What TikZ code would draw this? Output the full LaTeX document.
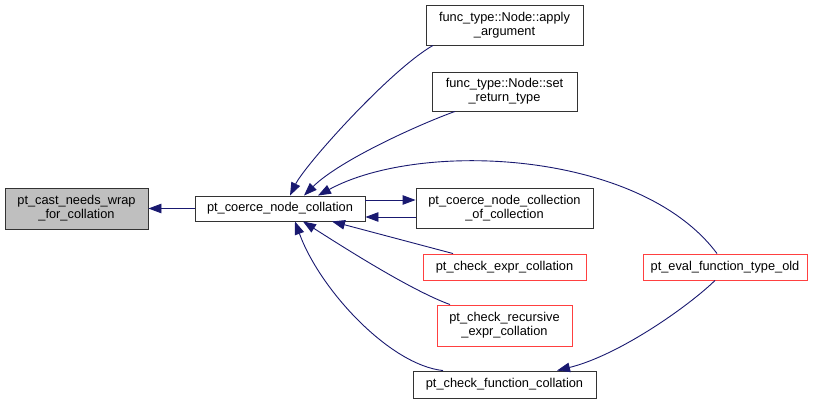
\documentclass[tikz,border=0pt]{standalone}
\usepackage{fontspec}
\setmainfont{Liberation Sans}
\usetikzlibrary{arrows.meta}
\definecolor{edgeblue}{HTML}{191970}
\definecolor{nodered}{HTML}{FF4040}
\definecolor{nodegray}{HTML}{BFBFBF}
\begin{document}
\begin{tikzpicture}[x=1pt,y=-1pt,
  box/.style={draw=black!80, line width=0.9pt, fill=white, inner sep=0pt, align=center,
    font=\fontsize{12.8}{14}\selectfont},
  redbox/.style={box, draw=nodered},
  edge/.style={draw=edgeblue, line width=0.9pt, -{Triangle[length=13pt,width=9.5pt]}}]
\useasboundingbox (0,0) rectangle (823,403);
\node[box, fill=nodegray, minimum width=143pt, minimum height=41pt] (A) at (76.5,208.5) {pt\_cast\_needs\_wrap\\\_for\_collation};
\node[box, minimum width=170pt, minimum height=25pt] (B) at (280,208.5) {pt\_coerce\_node\_collation};
\node[box, minimum width=157pt, minimum height=40pt] (C) at (504.5,25) {func\_type::Node::apply\\\_argument};
\node[box, minimum width=145pt, minimum height=39pt] (D) at (504.5,91.5) {func\_type::Node::set\\\_return\_type};
\node[box, minimum width=177pt, minimum height=40pt] (E) at (504.5,208.5) {pt\_coerce\_node\_collection\\\_of\_collection};
\node[redbox, minimum width=163pt, minimum height=26pt] (F) at (504.5,267) {pt\_check\_expr\_collation};
\node[redbox, minimum width=135pt, minimum height=41pt] (G) at (504.5,325.5) {pt\_check\_recursive\\\_expr\_collation};
\node[box, minimum width=183pt, minimum height=27pt] (H) at (504.5,384.5) {pt\_check\_function\_collation};
\node[redbox, minimum width=164pt, minimum height=26pt] (I) at (725,267) {pt\_eval\_function\_type\_old};

\draw[edge] (B.west) -- (A.east);
\draw[edge] ([xshift=-71.5pt]C.south) .. controls (390,70) and (305,165) .. ([xshift=10pt]B.north);
\draw[edge] ([xshift=-49.5pt]D.south) .. controls (420,124) and (340,160) .. ([xshift=24pt]B.north);
\draw[edge] ([xshift=-8pt]I.north) .. controls (640,150) and (420,140) .. ([xshift=38pt]B.north);
\draw[edge] ([yshift=8.5pt]B.east) -- ([yshift=8.5pt]E.west);
\draw[edge] ([yshift=-8.5pt]E.west) -- ([yshift=-8.5pt]B.east);
\draw[edge] ([xshift=-51.5pt]F.north) -- ([xshift=52pt]B.south);
\draw[edge] ([xshift=-54.5pt]G.north) .. controls (410,290) and (340,245) .. ([xshift=23pt]B.south);
\draw[edge] ([xshift=-61.5pt]H.north) .. controls (390,365) and (320,290) .. ([xshift=15pt]B.south);
\draw[edge] ([xshift=-10pt]I.south) .. controls (690,305) and (620,355) .. ([xshift=52.5pt]H.north);
\end{tikzpicture}
\end{document}
